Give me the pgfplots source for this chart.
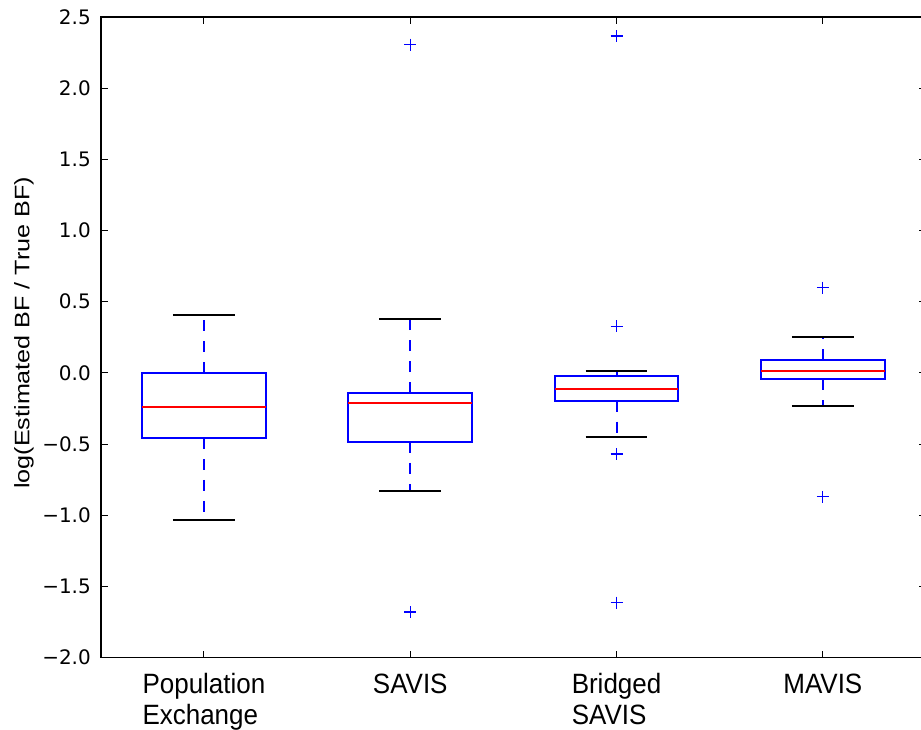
\documentclass[border=0pt]{standalone}
\usepackage{fontspec}
\setmainfont{DejaVu Sans}
\newfontfamily\xlab[FakeStretch=0.93]{Liberation Sans}
\newfontfamily\ylab[FakeStretch=1.2]{Liberation Sans}
\usepackage{pgfplots}
\pgfplotsset{compat=1.18}
\usepgfplotslibrary{statistics}
\pgfplotsset{
  boxplot/every box/.style={draw=blue, line width=1pt},
  boxplot/every median/.style={red, line width=1pt},
  boxplot/draw/lower whisker/.code={%
    \draw[blue, line width=1pt, dash pattern=on 5.5pt off 5pt]
      (boxplot box cs:\pgfplotsboxplotvalue{lower quartile},0.5) --
      (boxplot box cs:\pgfplotsboxplotvalue{lower whisker},0.5);
    \draw[black, line width=1pt]
      (boxplot whisker cs:\pgfplotsboxplotvalue{lower whisker},0) --
      (boxplot whisker cs:\pgfplotsboxplotvalue{lower whisker},1);
  },
  boxplot/draw/upper whisker/.code={%
    \draw[blue, line width=1pt, dash pattern=on 5.5pt off 5pt]
      (boxplot box cs:\pgfplotsboxplotvalue{upper quartile},0.5) --
      (boxplot box cs:\pgfplotsboxplotvalue{upper whisker},0.5);
    \draw[black, line width=1pt]
      (boxplot whisker cs:\pgfplotsboxplotvalue{upper whisker},0) --
      (boxplot whisker cs:\pgfplotsboxplotvalue{upper whisker},1);
  },
}
\begin{document}
\begin{tikzpicture}
\begin{axis}[
  scale only axis,
  width=413.5pt, height=321pt,
  xmin=0.5, xmax=4.5, ymin=-2, ymax=2.5,
  xtick={1,2,3,4},
  xticklabels={{Population\\Exchange},SAVIS,{Bridged\\SAVIS},MAVIS},
  xticklabel style={align=left, font=\xlab\fontsize{14}{15.5}\selectfont, anchor=north, yshift=-4.5pt},
  ytick={-2,-1.5,-1,-0.5,0,0.5,1,1.5,2,2.5},
  yticklabels={−2.0,−1.5,−1.0,−0.5,0.0,0.5,1.0,1.5,2.0,2.5},
  yticklabel style={font=\fontsize{10}{12}\selectfont, xshift=-1.5pt},
  tick align=inside,
  major tick length=3.5pt,
  xtick pos=both, ytick pos=both,
  axis line style={black, line width=0.9pt},
  tick style={black, line width=0.5pt},
  ylabel={log(Estimated BF / True BF)},
  ylabel style={font=\ylab\fontsize{10.5}{12}\selectfont, at={(axis description cs:-0.093,0.507)}, anchor=center},
  boxplot/draw direction=y,
  clip=false,
]
\addplot[mark=+, mark options={blue, line width=0.6pt}, mark size=3pt,
  boxplot prepared={median=-0.243, upper quartile=0.0, lower quartile=-0.458,
    upper whisker=0.404, lower whisker=-1.037, draw position=1,
    box extend=0.6, whisker extend=0.3}]
  coordinates {};
\addplot[mark=+, mark options={blue, line width=0.6pt}, mark size=3pt,
  boxplot prepared={median=-0.215, upper quartile=-0.142, lower quartile=-0.486,
    upper whisker=0.376, lower whisker=-0.829, draw position=2,
    box extend=0.6, whisker extend=0.3}]
  table[row sep=\\, y index=0] {data\\ 2.305\\ -1.68\\};
\addplot[mark=+, mark options={blue, line width=0.6pt}, mark size=3pt,
  boxplot prepared={median=-0.112, upper quartile=-0.02, lower quartile=-0.196,
    upper whisker=0.012, lower whisker=-0.449, draw position=3,
    box extend=0.6, whisker extend=0.3}]
  table[row sep=\\, y index=0] {data\\ 2.366\\ 0.327\\ -0.57\\ -1.614\\};
\addplot[mark=+, mark options={blue, line width=0.6pt}, mark size=3pt,
  boxplot prepared={median=0.01, upper quartile=0.091, lower quartile=-0.044,
    upper whisker=0.252, lower whisker=-0.231, draw position=4,
    box extend=0.6, whisker extend=0.3}]
  table[row sep=\\, y index=0] {data\\ 0.599\\ -0.871\\};
\end{axis}
\pgfresetboundingbox
\path[use as bounding box] ([xshift=-50.5pt,yshift=-36pt]current axis.south west) rectangle ([xshift=-2.5pt,yshift=8.5pt]current axis.north east);
\end{tikzpicture}
\end{document}
